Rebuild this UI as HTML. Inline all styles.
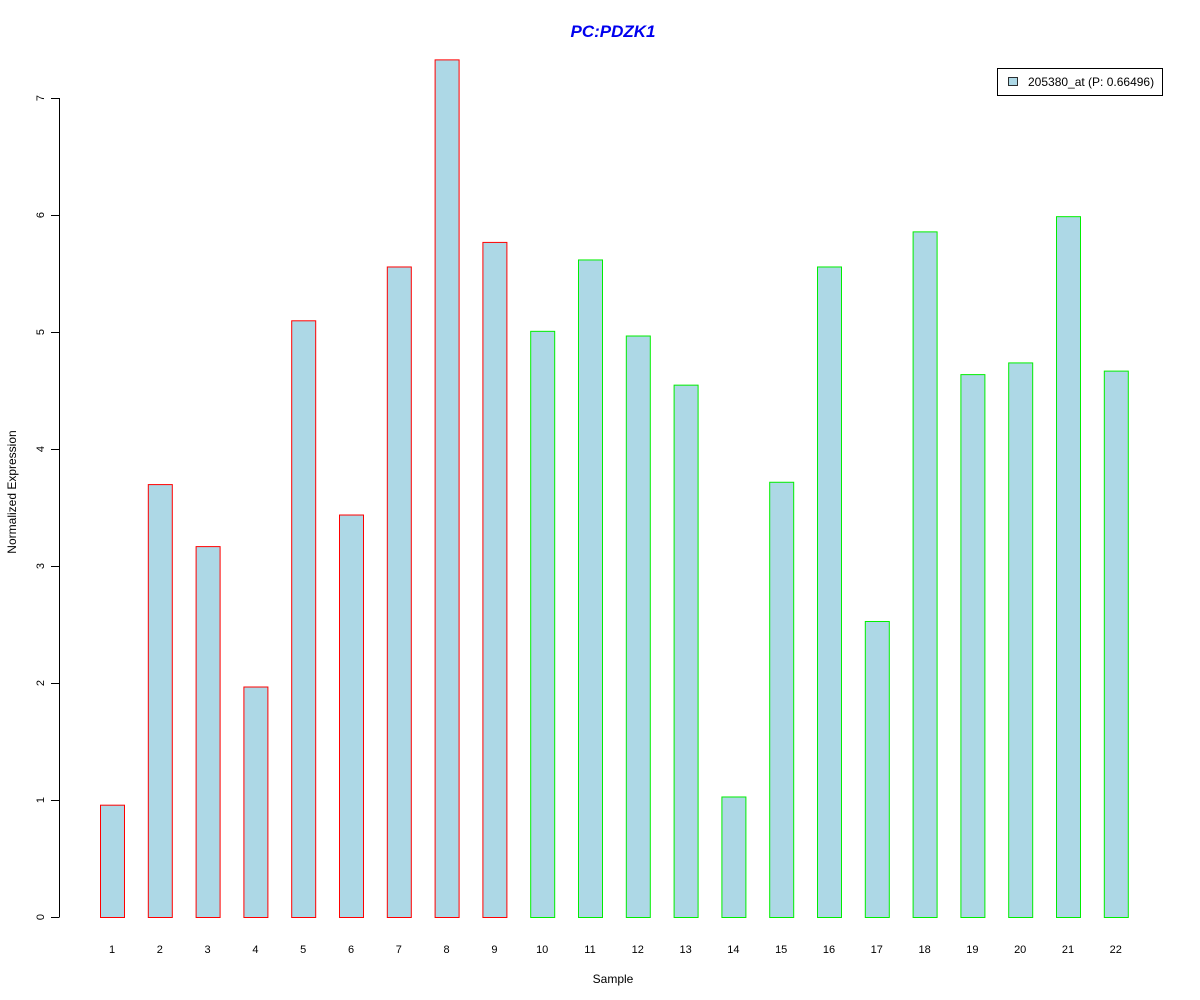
<!DOCTYPE html>
<html><head><meta charset="utf-8"><style>body{margin:0;background:#fff}svg{display:block;font-family:"Liberation Sans",Arial,sans-serif}</style></head>
<body>
<svg id="chart" width="1200" height="1000" xmlns="http://www.w3.org/2000/svg">
<rect width="1200" height="1000" fill="#fff"/>
<text x="613" y="37" text-anchor="middle" font-size="17" font-weight="bold" font-style="italic" fill="#0000ee">PC:PDZK1</text>
<text x="613" y="983" text-anchor="middle" font-size="12">Sample</text>
<text transform="translate(16,492) rotate(-90)" text-anchor="middle" font-size="12">Normalized Expression</text>
<g id="yaxis"></g>
<g id="bars"></g>
<g id="xlabels"></g>
<g>
<rect x="997.5" y="68.5" width="165" height="27" fill="#fff" stroke="#000"/>
<rect x="1008.5" y="77.5" width="9" height="8" fill="#add8e6" stroke="#000" stroke-width="0.8"/>
<text x="1028" y="86" font-size="12">205380_at (P: 0.66496)</text>
</g>
</svg>
<script>
const categories=["1","2","3","4","5","6","7","8","9","10","11","12","13","14","15","16","17","18","19","20","21","22"];
const values=[0.96,3.70,3.17,1.97,5.10,3.44,5.56,7.33,5.77,5.01,5.62,4.97,4.55,1.03,3.72,5.56,2.53,5.86,4.64,4.74,5.99,4.67];
const groups=["r","r","r","r","r","r","r","r","r","g","g","g","g","g","g","g","g","g","g","g","g","g"];
const yTicks=[0,1,2,3,4,5,6,7];
const NS="http://www.w3.org/2000/svg";
const y=v=>917-v*117;
const x=i=>112+i*47.8;
function mk(tag,attrs,parent){const e=document.createElementNS(NS,tag);for(const k in attrs)e.setAttribute(k,attrs[k]);parent.appendChild(e);return e;}
const ya=document.getElementById('yaxis');
const ax=mk('line',{x1:59.5,x2:59.5,y1:y(0),y2:y(7),stroke:'#000'},ya);


yTicks.forEach(t=>{
 const l=mk('line',{x1:51,x2:59.5,y1:y(t)+0.5,y2:y(t)+0.5,stroke:'#000'},ya);
 
 
 const tx=mk('text',{transform:`translate(44,${y(t)}) rotate(-90)`,'text-anchor':'middle','font-size':11},ya);
 
 
 tx.textContent=t;
});
const bg=document.getElementById('bars'),xl=document.getElementById('xlabels');
values.forEach((v,i)=>{
 const r=mk('rect',{x:x(i)-12+0.5,y:y(v)+0.5,width:24,height:y(0)-y(v),fill:'#add8e6',stroke:groups[i]==='r'?'#ff0000':'#00ee00'},bg);
 
 
 const t=mk('text',{x:x(i),y:953,'text-anchor':'middle','font-size':11},xl);
 
 
 t.textContent=categories[i];
});
</script>
</body></html>
